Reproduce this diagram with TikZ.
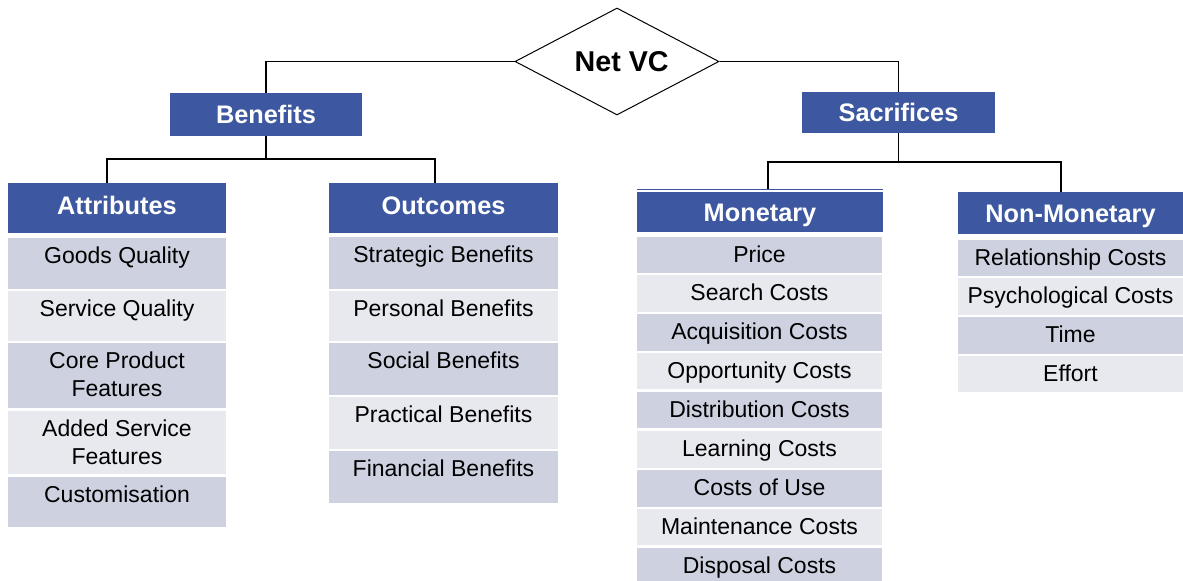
\documentclass[tikz,border=0pt]{standalone}
\usepackage{fontspec}
\setmainfont{Liberation Sans}
\usetikzlibrary{shapes.geometric}

\definecolor{hdrblue}{RGB}{61,88,160}
\definecolor{celldark}{RGB}{206,210,224}
\definecolor{celllight}{RGB}{232,233,239}

\tikzset{
  conn/.style={draw=black, line width=0.8pt},
  hdr/.style={fill=hdrblue, text=white, inner sep=0pt,
    font=\fontsize{19}{22}\selectfont\bfseries,
    text height=13.6pt, text depth=0pt},
  hdrhigh/.style={hdr, text height=13.6pt, text depth=3.8pt},
  celltext/.style={anchor=base, align=center, inner sep=0pt,
    font=\fontsize{17.25}{21}\selectfont},
  topnode/.style={diamond, aspect=2, draw=black, line width=0.75pt, inner sep=0pt,
    minimum width=153pt, minimum height=80.25pt,
    font=\fontsize{21.5}{24}\selectfont\bfseries}
}

% one shaded list entry: name, left, right, top, bottom, fill, text
\newcommand\listcell[7]{%
  \path[fill=#6] (#2,#4) rectangle (#3,#5);
  \node[celltext] (#1) at ({(#2+#3)/2},{#4+25.5}) {#7};
}

\begin{document}
\begin{tikzpicture}[x=0.75pt,y=-0.75pt]
\useasboundingbox (0,0) rectangle (1183,581);

% top of the hierarchy
\node[topnode] (net) at (617,61.5) {\hspace{7pt}Net VC};

% second level
\node[hdr, minimum width=144pt, minimum height=32.25pt] (benefits) at (266,114.5) {Benefits};
\node[hdr, minimum width=144.75pt, minimum height=30.75pt] (sacrifices) at (898.5,112.5) {Sacrifices};

% third level headers
\node[hdrhigh, minimum width=163.5pt, minimum height=37.5pt] (attributes) at (117,208) {Attributes};
\node[hdrhigh, minimum width=171.75pt, minimum height=37.5pt] (outcomes) at (443.5,208) {Outcomes};
\node[hdr, minimum width=184.5pt, minimum height=30pt] (monetary) at (760,212) {Monetary};
\node[hdr, minimum width=168.75pt, minimum height=31.5pt] (nonmonetary) at (1070.5,213) {Non-Monetary};
\draw[hdrblue, line width=0.6pt] (637,189) -- (883,189);

% connectors
\coordinate (bj) at (266,159);
\coordinate (attrTop) at (107,183);
\coordinate (outTop) at (435,183);
\coordinate (sj) at (898.5,162);
\coordinate (monTop) at (768,189);
\coordinate (nonTop) at (1061,192);

\draw[conn] (net.west) -| (benefits.north);
\draw[conn] (net.east) -| (sacrifices.north);
\draw[conn] (benefits.south) -- (bj);
\draw[conn] (attrTop) |- (bj) -| (outTop);
\draw[conn] (sacrifices.south) -- (sj);
\draw[conn] (monTop) |- (sj) -| (nonTop);

% Attributes
\listcell{a1}{8}{226}{238}{289}{celldark}{Goods Quality}
\listcell{a2}{8}{226}{291}{341}{celllight}{Service Quality}
\path[fill=celldark] (8,343) rectangle (226,408);
\node[celltext, anchor=north] (a3) at (117,352) {Core Product\\Features};
\path[fill=celllight] (8,411) rectangle (226,474);
\node[celltext, anchor=north] (a4) at (117,420) {Added Service\\Features};
\listcell{a5}{8}{226}{477}{527}{celldark}{Customisation}

% Outcomes
\listcell{o1}{329}{558}{237}{289}{celldark}{Strategic Benefits}
\listcell{o2}{329}{558}{291}{341}{celllight}{Personal Benefits}
\listcell{o3}{329}{558}{343}{395}{celldark}{Social Benefits}
\listcell{o4}{329}{558}{397}{449}{celllight}{Practical Benefits}
\listcell{o5}{329}{558}{451}{503}{celldark}{Financial Benefits}

% Monetary
\listcell{m1}{637}{882}{237}{273}{celldark}{Price}
\listcell{m2}{637}{882}{275}{312}{celllight}{Search Costs}
\listcell{m3}{637}{882}{314}{351}{celldark}{Acquisition Costs}
\listcell{m4}{637}{882}{353}{389}{celllight}{Opportunity Costs}
\listcell{m5}{637}{882}{392}{428}{celldark}{Distribution Costs}
\listcell{m6}{637}{882}{431}{468}{celllight}{Learning Costs}
\listcell{m7}{637}{882}{470}{507}{celldark}{Costs of Use}
\listcell{m8}{637}{882}{509}{545}{celllight}{Maintenance Costs}
\listcell{m9}{637}{882}{548}{581}{celldark}{Disposal Costs}

% Non-Monetary
\listcell{n1}{958}{1183}{240}{276}{celldark}{Relationship Costs}
\listcell{n2}{958}{1183}{278}{315}{celllight}{Psychological Costs}
\listcell{n3}{958}{1183}{317}{354}{celldark}{Time}
\listcell{n4}{958}{1183}{356}{392}{celllight}{Effort}
\end{tikzpicture}
\end{document}
